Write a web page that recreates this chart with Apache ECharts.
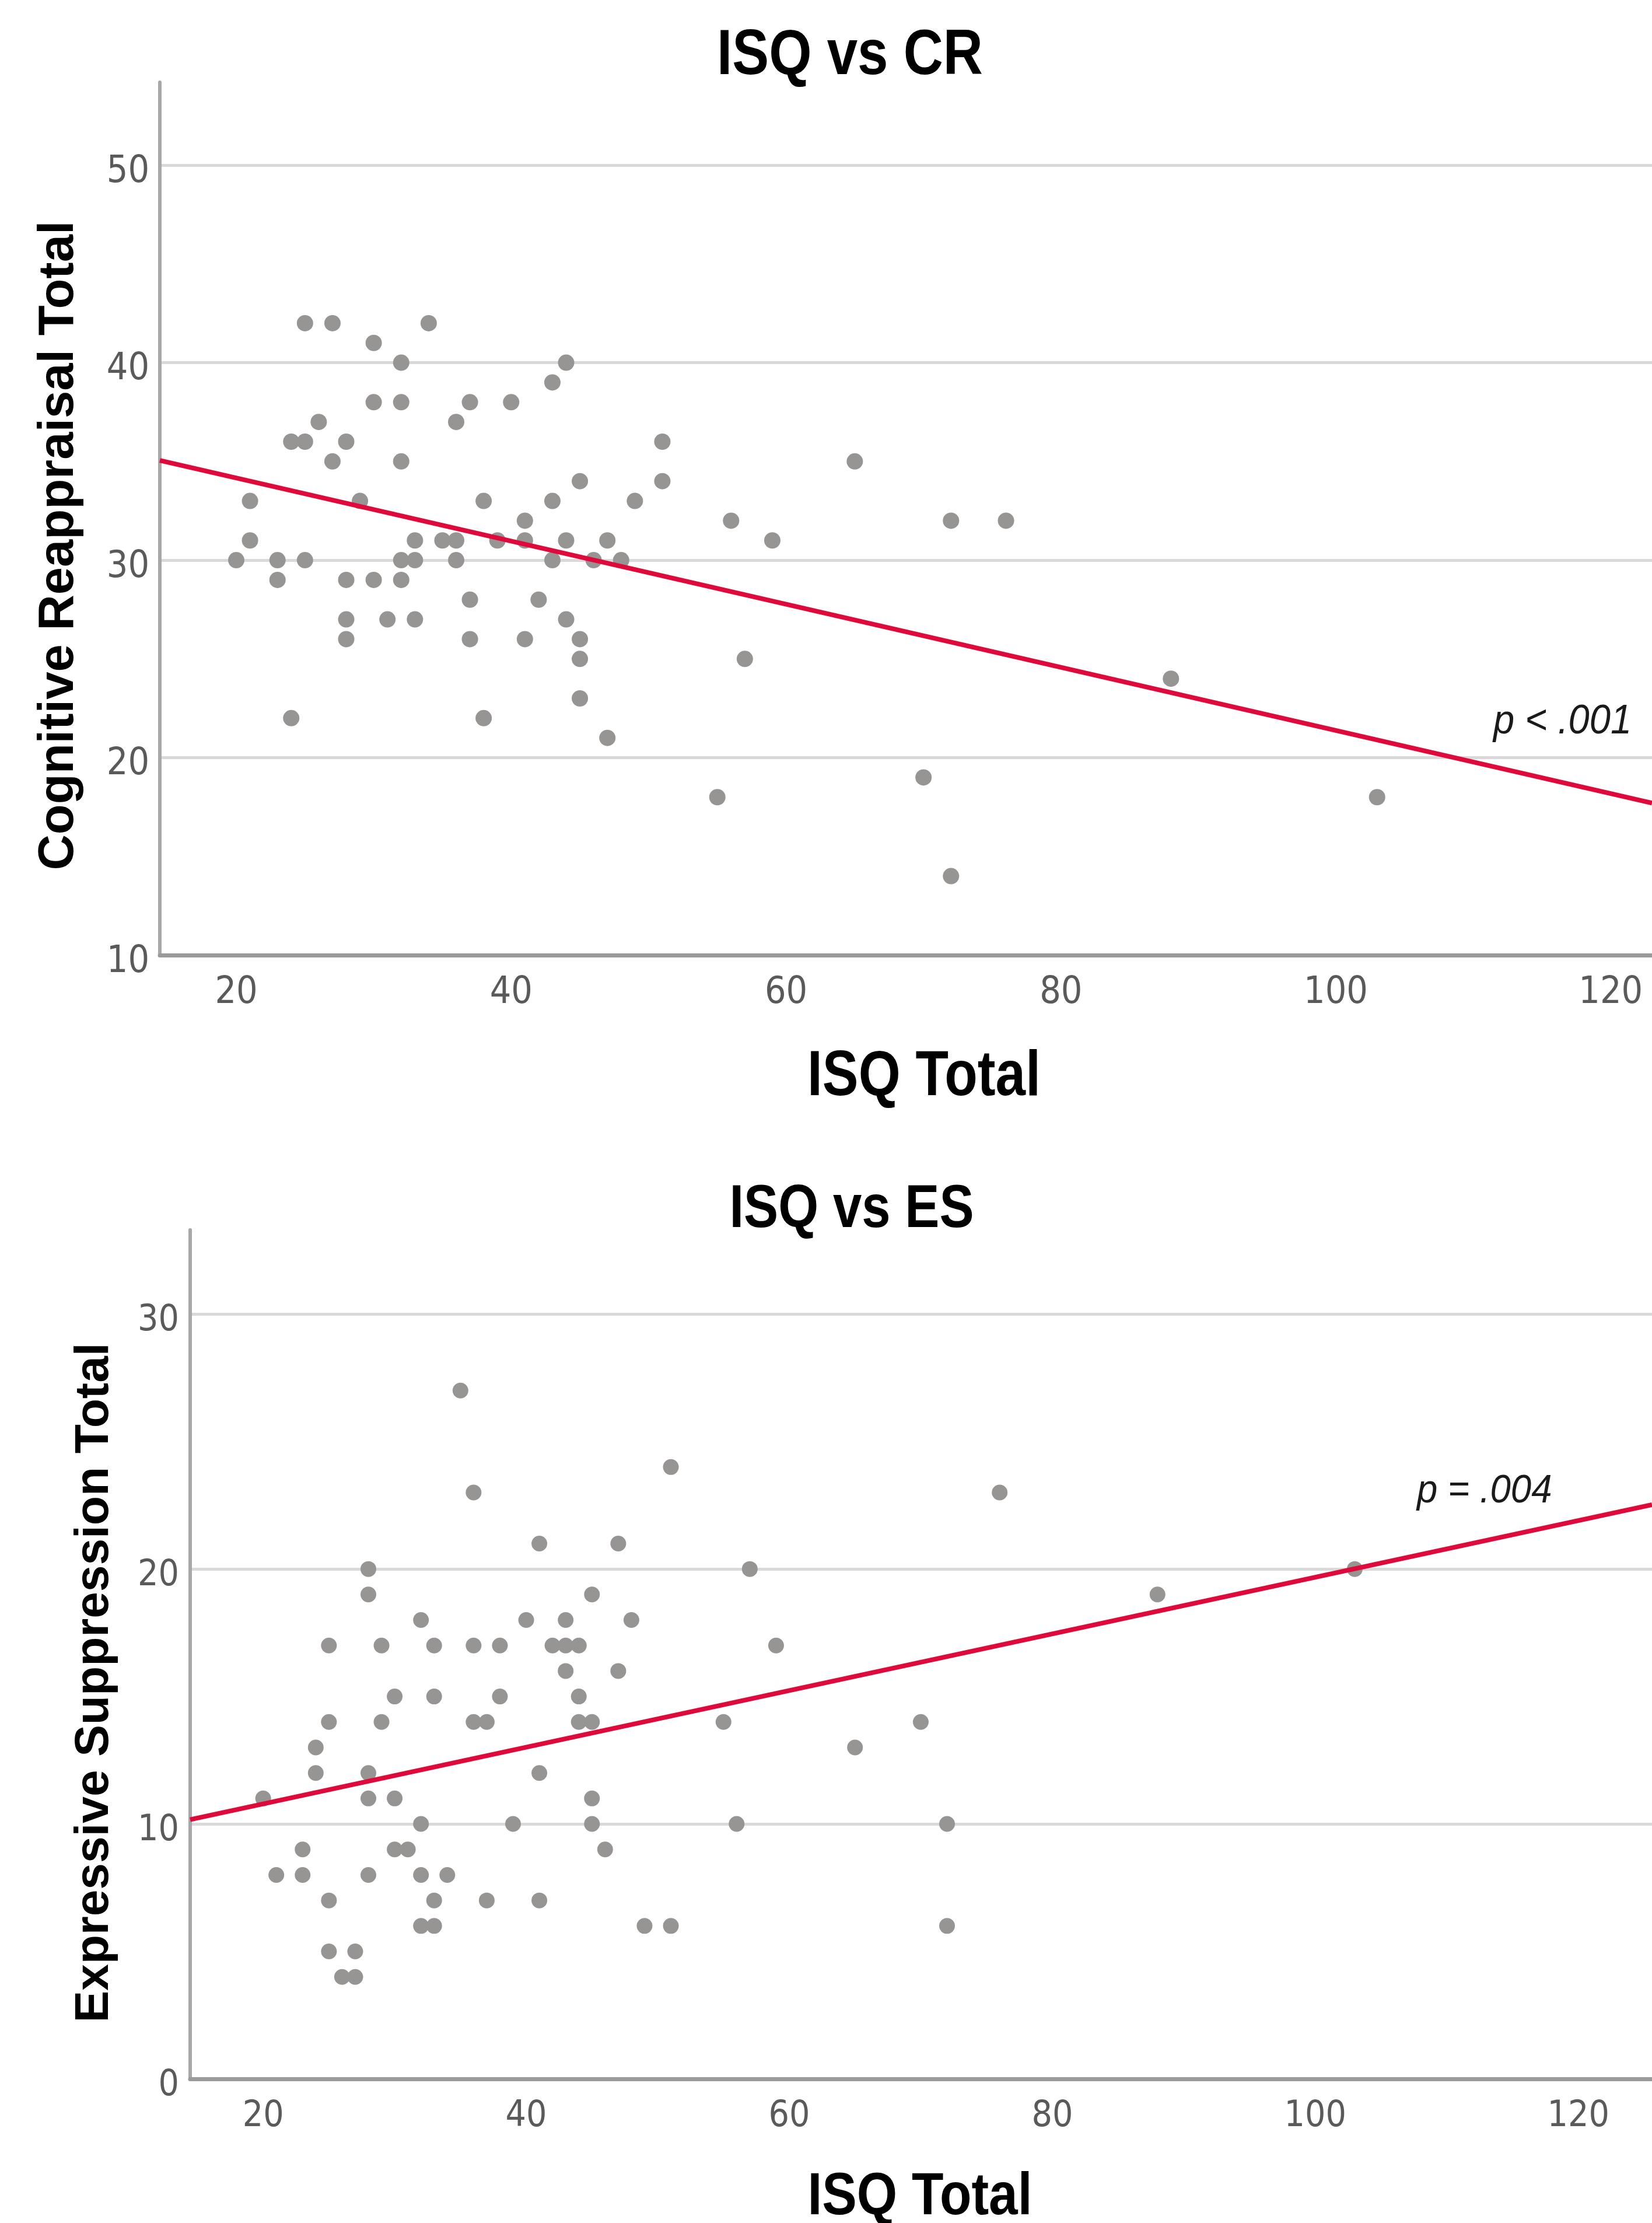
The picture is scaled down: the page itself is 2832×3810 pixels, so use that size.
<!DOCTYPE html>
<html>
<head>
<meta charset="utf-8">
<script src="https://cdn.jsdelivr.net/npm/echarts@6/dist/echarts.min.js"></script>
<style>
html,body{margin:0;padding:0;background:#fff;}
#c{width:2832px;height:3810px;}
</style>
</head>
<body>
<div id="c"></div>
<script>
// ---- Data: ISQ vs CR (top panel) ----
const crISQ = [25,27,34,30,32,44,43,30,32,37,40,26,36,24,25,28,51,27,32,65,45,51,21,29,38,43,49,41,56,72,76,21,33,35,36,39,41,44,47,59,20,23,25,32,33,36,43,46,48,23,28,30,32,37,42,28,31,33,44,28,37,41,45,45,57,88,45,24,38,47,70,55,103,72];
const crValue = [42,42,42,41,40,40,39,38,38,38,38,37,37,36,36,36,36,35,35,35,34,34,33,33,33,33,33,32,32,32,32,31,31,31,31,31,31,31,31,31,30,30,30,30,30,30,30,30,30,29,29,29,29,28,28,27,27,27,27,26,26,26,26,25,25,24,23,22,22,21,19,18,18,14];
// fit line end points
const crFitX = [14.44, 123];
const crFitY = [35.05, 17.7];

// ---- Data: ISQ vs ES (bottom panel) ----
const esISQ = [35,36,51,76,41,47,28,57,103,28,45,88,32,40,43,48,25,29,33,36,38,42,43,44,59,43,47,30,33,38,44,25,29,36,37,44,45,55,70,24,65,24,28,41,20,28,30,45,32,39,45,56,72,23,30,31,46,21,23,28,32,34,25,33,37,41,32,33,49,51,72,25,27,26,27];
const esValue = [27,23,24,23,21,21,20,20,20,19,19,19,18,18,18,18,17,17,17,17,17,17,17,17,17,16,16,15,15,15,15,14,14,14,14,14,14,14,14,13,13,12,12,12,11,11,11,11,10,10,10,10,10,9,9,9,9,8,8,8,8,8,7,7,7,7,6,6,6,6,6,5,5,4,4];
const esFitX = [14.45, 125.6];
const esFitY = [10.17, 22.52];

// ---- Tick labels ----
const xTicks = [20,40,60,80,100,120];
const crTicks = [10,20,30,40,50];
const esTicks = [0,10,20,30];

const zip = (a,b) => a.map((v,i) => [v, b[i]]);

const tickFont = "'Liberation Sans Narrow','Arial Narrow','DejaVu Sans Condensed',sans-serif";
const boldFont = "'Liberation Sans',Arial,sans-serif";
const dotColor = '#979494';
const fitColor = '#df0a3b';

function xAxisCfg(gi, min, max, fs, margin){
  return {
    type:'value', gridIndex:gi, min:min, max:max,
    axisLine:{show:true, lineStyle:{color:'#9a9a9a', width:7}},
    axisTick:{show:false, customValues:xTicks},
    splitLine:{show:false},
    axisLabel:{customValues:xTicks, margin:margin, fontSize:fs, color:'#5a5a5a', fontFamily:tickFont}
  };
}
function yAxisCfg(gi, min, max, ticks, fs, margin){
  return {
    type:'value', gridIndex:gi, min:min, max:max,
    axisLine:{show:true, lineStyle:{color:'#a8a8a8', width:6}},
    axisTick:{show:false, customValues:ticks},
    splitLine:{show:true, lineStyle:{color:'#d9d9d9', width:5}},
    axisLabel:{customValues:ticks, margin:margin, fontSize:fs, color:'#5a5a5a', fontFamily:tickFont, verticalAlign:'top', lineHeight:24}
  };
}

const chart = echarts.init(document.getElementById('c'), null, {renderer:'canvas'});
chart.setOption({
  animation:false,
  backgroundColor:'#ffffff',
  grid:[
    {left:274, top:141, width:2558, height:1496, outerBoundsMode:'none', containLabel:false},
    {left:326, top:2108, width:2506, height:1455, outerBoundsMode:'none', containLabel:false}
  ],
  xAxis:[ xAxisCfg(0, 14.44, 123, 64, 33), xAxisCfg(1, 14.45, 125.6, 62, 34) ],
  yAxis:[ yAxisCfg(0, 10, 54.2, crTicks, 64, 18), yAxisCfg(1, 0, 33.3, esTicks, 62, 19) ],
  series:[
    {type:'scatter', xAxisIndex:0, yAxisIndex:0, data:zip(crISQ,crValue), symbolSize:28, itemStyle:{color:dotColor, opacity:1}, z:2},
    {type:'line', xAxisIndex:0, yAxisIndex:0, data:zip(crFitX,crFitY), showSymbol:false, symbol:'none', lineStyle:{color:fitColor, width:8}, z:3},
    {type:'scatter', xAxisIndex:1, yAxisIndex:1, data:zip(esISQ,esValue), symbolSize:27, itemStyle:{color:dotColor, opacity:1}, z:2},
    {type:'line', xAxisIndex:1, yAxisIndex:1, data:zip(esFitX,esFitY), showSymbol:false, symbol:'none', lineStyle:{color:fitColor, width:8}, z:3}
  ],
  graphic:{elements:[
    {type:'text', x:1457, y:97, scaleX:0.865, style:{text:'ISQ vs CR', fontSize:109, fontWeight:'bold', fontFamily:boldFont, fill:'#000', align:'center', verticalAlign:'middle'}},
    {type:'text', x:1584, y:1847, scaleX:0.85, style:{text:'ISQ Total', fontSize:109, fontWeight:'bold', fontFamily:boldFont, fill:'#000', align:'center', verticalAlign:'middle'}},
    {type:'text', x:102, y:935, rotation:Math.PI/2, style:{text:'Cognitive Reappraisal Total', fontSize:85, fontWeight:'bold', fontFamily:boldFont, fill:'#000', align:'center', verticalAlign:'middle'}},
    {type:'text', x:2560, y:1238, scaleX:0.93, style:{text:'p < .001', fontSize:70, fontStyle:'italic', fontFamily:boldFont, fill:'#1a1a1a', align:'left', verticalAlign:'middle'}},
    {type:'text', x:1460, y:2074, scaleX:0.853, style:{text:'ISQ vs ES', fontSize:104, fontWeight:'bold', fontFamily:boldFont, fill:'#000', align:'center', verticalAlign:'middle'}},
    {type:'text', x:1577, y:3767, scaleX:0.875, style:{text:'ISQ Total', fontSize:102, fontWeight:'bold', fontFamily:boldFont, fill:'#000', align:'center', verticalAlign:'middle'}},
    {type:'text', x:162, y:2884, rotation:Math.PI/2, style:{text:'Expressive Suppression Total', fontSize:82, fontWeight:'bold', fontFamily:boldFont, fill:'#000', align:'center', verticalAlign:'middle'}},
    {type:'text', x:2429, y:2556, scaleX:0.935, style:{text:'p = .004', fontSize:68, fontStyle:'italic', fontFamily:boldFont, fill:'#1a1a1a', align:'left', verticalAlign:'middle'}}
  ]}
});
</script>
</body>
</html>
